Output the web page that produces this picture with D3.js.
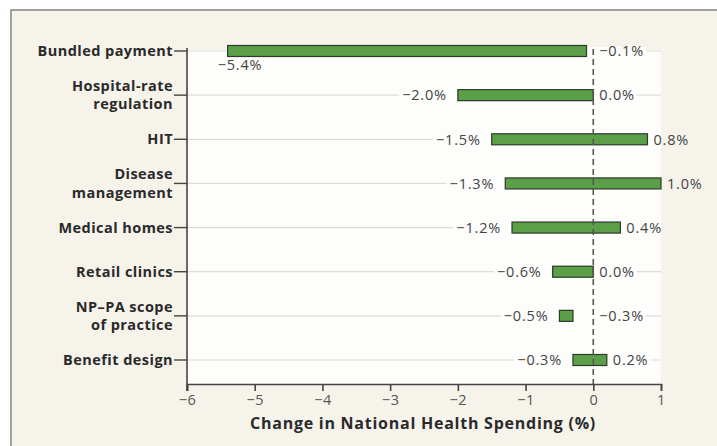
<html>
<script src='https://d3js.org/d3.v7.min.js'></script>
<style>
    body { margin: 0; background: #fff; }
    text { font-family: 'Open Sans', sans-serif; }
</style>

<body>
    <div id="chart"></div>
    <script>
        // categories, top to bottom (each entry = lines of the label)
        var categories = ["Bundled payment", "Hospital-rate regulation", "HIT", "Disease management",
            "Medical homes", "Retail clinics", "NP\u2013PA scope of practice", "Benefit design"];
        var labelLines = [["Bundled payment"], ["Hospital-rate", "regulation"], ["HIT"], ["Disease", "management"],
            ["Medical homes"], ["Retail clinics"], ["NP\u2013PA scope", "of practice"], ["Benefit design"]];
        // low / high estimate of change in national health spending (%)
        var lowValues = [-5.4, -2.0, -1.5, -1.3, -1.2, -0.6, -0.5, -0.3];
        var highValues = [-0.1, 0.0, 0.8, 1.0, 0.4, 0.0, -0.3, 0.2];
        var xTicks = [-6, -5, -4, -3, -2, -1, 0, 1];

        var width = 717, height = 446;
        var plotLeft = 187, plotRight = 661, plotTop = 51, plotBottom = 360, axisY = 384;

        var svg = d3.select("#chart").append("svg")
            .attr("width", width)
            .attr("height", height);

        // panel
        svg.append("rect")
            .attr("x", 11).attr("y", 10)
            .attr("width", 720).attr("height", 450)
            .attr("fill", "#f5f3ea")
            .attr("stroke", "#8c8c8c")
            .attr("stroke-width", 1.6);

        var x = d3.scaleLinear().domain([-6, 1]).range([plotLeft, plotRight]);
        var y = d3.scalePoint().domain(categories).range([plotTop, plotBottom]);

        // plot background
        svg.append("rect")
            .attr("x", plotLeft).attr("y", plotTop - 1)
            .attr("width", plotRight - plotLeft).attr("height", axisY - plotTop + 1)
            .attr("fill", "#fdfdfb");

        var rows = categories.map((c, i) => ({ cat: c, lines: labelLines[i], lo: lowValues[i], hi: highValues[i] }));

        // gridlines
        svg.append("g").selectAll("line")
            .data(rows)
            .enter().append("line")
            .attr("x1", plotLeft).attr("x2", plotRight)
            .attr("y1", d => y(d.cat)).attr("y2", d => y(d.cat))
            .attr("stroke", "#dcdcd8")
            .attr("stroke-width", 1.2);

        var fmt = v => (v < 0 ? "\u2212" : "") + Math.abs(v).toFixed(1) + "%";

        var maskG = svg.append("g");
        var barG = svg.append("g");
        var labelG = svg.append("g");

        // value labels
        rows.forEach(d => {
            var yy = y(d.cat);
            var loText, hiText;
            if (d.cat == "Bundled payment") {
                loText = labelG.append("text")
                    .attr("x", x(d.lo) - 10).attr("y", yy + 19)
                    .text(fmt(d.lo));
            } else {
                loText = labelG.append("text")
                    .attr("x", x(d.lo) - 11).attr("y", yy)
                    .attr("dy", "0.36em")
                    .attr("text-anchor", "end")
                    .text(fmt(d.lo));
            }
            hiText = labelG.append("text")
                .attr("x", Math.max(x(d.hi), x(0)) + 6).attr("y", yy)
                .attr("dy", "0.36em")
                .text(fmt(d.hi));
            [loText, hiText].forEach(t => t.style("font-size", "14.5px")
                .style("letter-spacing", "0.8px")
                .attr("fill", "#444"));

            // hide the gridline behind labels and bar (inside the plot only)
            var b1 = d.cat == "Bundled payment" ? { x: x(d.lo) + 3 } : loText.node().getBBox();
            var b2 = hiText.node().getBBox();
            var mx1 = b1.x - 3, mx2 = Math.min(b2.x + b2.width + 2, plotRight);
            maskG.append("rect")
                .attr("x", mx1).attr("y", yy - 4)
                .attr("width", mx2 - mx1).attr("height", 8)
                .attr("fill", "#fdfdfb");
        });

        // bars
        barG.selectAll("rect")
            .data(rows)
            .enter().append("rect")
            .attr("x", d => x(d.lo))
            .attr("y", d => y(d.cat) - 5.5)
            .attr("width", d => x(d.hi) - x(d.lo))
            .attr("height", 11)
            .attr("fill", "#5c9f49")
            .attr("stroke", "#2c3a28")
            .attr("stroke-width", 1.2);

        // zero reference line
        svg.append("line")
            .attr("x1", x(0)).attr("x2", x(0))
            .attr("y1", plotTop - 2).attr("y2", axisY)
            .attr("stroke", "#555")
            .attr("stroke-width", 1.6)
            .attr("stroke-dasharray", "6,4");

        // x axis
        var xAxis = svg.append("g")
            .attr("transform", "translate(0," + axisY + ")")
            .call(d3.axisBottom(x).tickValues(xTicks).tickSize(7).tickPadding(4)
                .tickFormat(d => d < 0 ? "\u2212" + Math.abs(d) : d));
        xAxis.select(".domain").attr("stroke", "#444").attr("stroke-width", 1.6);
        xAxis.selectAll(".tick line").attr("stroke", "#444").attr("stroke-width", 1.6);
        xAxis.selectAll(".tick text")
            .attr("fill", "#555")
            .style("font-family", "'Open Sans', sans-serif")
            .style("font-size", "14.5px")
            .style("letter-spacing", "0.5px");

        // y axis
        svg.append("line")
            .attr("x1", plotLeft).attr("x2", plotLeft)
            .attr("y1", plotTop - 3).attr("y2", axisY + 7)
            .attr("stroke", "#444").attr("stroke-width", 1.6);

        var cat = svg.append("g").selectAll("g")
            .data(rows)
            .enter().append("g")
            .attr("transform", d => "translate(0," + y(d.cat) + ")");
        cat.append("line")
            .attr("x1", plotLeft - 13).attr("x2", plotLeft)
            .attr("stroke", "#444").attr("stroke-width", 1.4);
        cat.each(function (d) {
            var g = d3.select(this);
            var n = d.lines.length;
            d.lines.forEach((t, j) => {
                g.append("text")
                    .attr("x", plotLeft - 14)
                    .attr("y", (j - (n - 1) / 2) * 18.5)
                    .attr("dy", "0.35em")
                    .attr("text-anchor", "end")
                    .style("font-size", "14.5px")
                    .style("font-weight", "bold")
                    .style("letter-spacing", "0.45px")
                    .attr("fill", "#2a2a2a")
                    .text(t);
            });
        });

        // axis title
        svg.append("text")
            .attr("x", (x(-6) + x(1)) / 2 - 1)
            .attr("y", 429)
            .attr("text-anchor", "middle")
            .style("font-size", "16px")
            .style("font-weight", "bold")
            .style("letter-spacing", "0.75px")
            .attr("fill", "#2a2a2a")
            .text("Change in National Health Spending (%)");
    </script>
</body>

</html>
